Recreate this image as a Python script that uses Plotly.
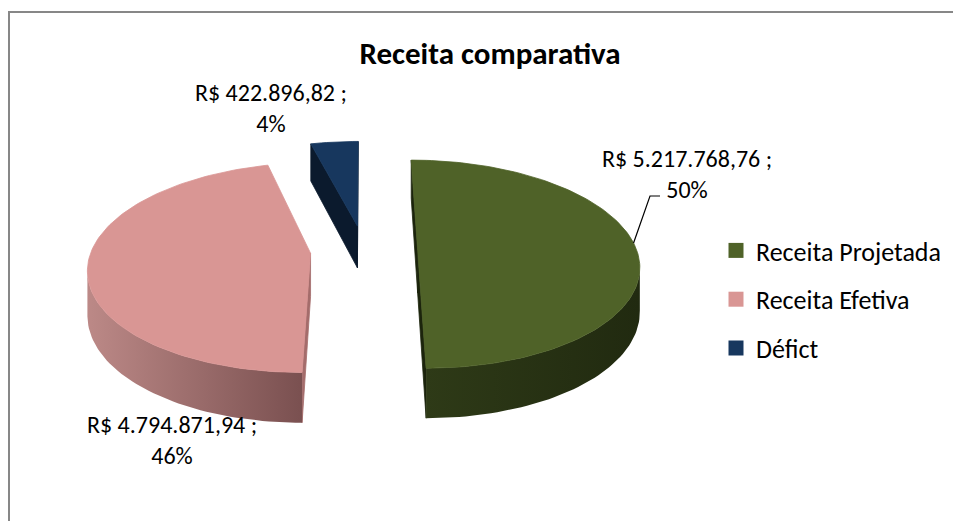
import numpy as np
import plotly.graph_objects as go

# ---------------- data ----------------
categories = ["Receita Projetada", "Receita Efetiva", "Défict"]
values = [5217768.76, 4794871.94, 422896.82]
top_colors = ["#4F6228", "#D99694", "#17375E"]
side_grad = [["#2E3A17", "#212A10"], ["#BC8987", "#7A5050"], ["#0C1B2E", "#0A1726"]]
radial_colors = ["#1C240C", "#A46C6B", "#0B1A2D"]
title_text = "Receita comparativa"

# page offset of the plot div (default body margin)
OFF = 8
W_PX, H_PX = 961, 521

# ---------------- geometry (perspective 3D pie) ----------------
CX, CY, A, B, P, D, PULL = 364.0, 250.0, 219.0, 102.1, 0.136, 43.2, 0.245


def proj(X, W, Yd):
    s = 1.0 / (1.0 + P * W)
    return CX + A * X * s, CY - B * W * s + D * Yd * s


def area(poly):
    xs = np.array([p[0] for p in poly])
    ys = np.array([p[1] for p in poly])
    return 0.5 * np.sum(xs * np.roll(ys, -1) - np.roll(xs, -1) * ys)


def fmt_brl(v):
    s = f"{v:,.2f}"
    return "R$ " + s.replace(",", "X").replace(".", ",").replace("X", ".")


def px_x(p):
    return (p - OFF) / W_PX


def px_y(p):
    return 1 - (p - OFF) / H_PX


total = sum(values)
fractions = [v / total for v in values]
starts = np.concatenate([[0], np.cumsum(fractions)[:-1]]) * 2 * np.pi
ends = np.cumsum(fractions) * 2 * np.pi

fig = go.Figure()


def add_poly(xs, ys, color=None, grad=None, lw=0.8):
    kw = dict(x=xs, y=ys, mode="lines", fill="toself", hoverinfo="skip",
              showlegend=False)
    if grad is not None:
        kw["fillgradient"] = dict(type="horizontal",
                                  colorscale=[[0, grad[0]], [1, grad[1]]])
        kw["line"] = dict(width=0)
    else:
        kw["fillcolor"] = color
        kw["line"] = dict(width=lw, color=color)
    fig.add_trace(go.Scatter(**kw))


slice_geo = {}
for i in [2, 1, 0]:  # back to front
    a0, a1 = starts[i], ends[i]
    mid = 0.5 * (a0 + a1)
    px, pw = PULL * np.sin(mid), PULL * np.cos(mid)

    def rim(t, yd, px=px, pw=pw):
        return proj(np.sin(t) + px, np.cos(t) + pw, yd)

    ctop = proj(px, pw, 0)
    cbot = proj(px, pw, 1)
    n = max(8, int((a1 - a0) / (2 * np.pi) * 240))
    th = np.linspace(a0, a1, n + 1)

    top = [ctop] + [rim(t, 0) for t in th[::-1]]
    ref = np.sign(area(top))

    # radial faces
    r0 = [ctop, rim(a0, 0), rim(a0, 1), cbot]
    r1 = [rim(a1, 0), ctop, cbot, rim(a1, 1)]
    for face in (r0, r1):
        if area(face) * ref > 1e-6:
            add_poly([p[0] for p in face] + [face[0][0]],
                     [p[1] for p in face] + [face[0][1]], color=radial_colors[i])

    # outer side
    vis = []
    for k in range(n):
        q = [rim(th[k], 0), rim(th[k + 1], 0), rim(th[k + 1], 1), rim(th[k], 1)]
        vis.append(area(q) * ref > 1e-6)
    sx, sy = [], []
    k = 0
    while k < n:
        if vis[k]:
            j = k
            while j < n and vis[j]:
                j += 1
            ts = th[k:j + 1]
            pts = [rim(t, 0) for t in ts] + [rim(t, 1) for t in ts[::-1]]
            pts.append(pts[0])
            if sx:
                sx.append(None)
                sy.append(None)
            sx += [p[0] for p in pts]
            sy += [p[1] for p in pts]
            k = j
        else:
            k += 1
    if sx:
        add_poly(sx, sy, grad=side_grad[i])

    # top face
    add_poly([p[0] for p in top] + [top[0][0]], [p[1] for p in top] + [top[0][1]],
             color=top_colors[i])
    slice_geo[i] = rim

# leader line for the first slice label
lx0, ly0 = slice_geo[0](np.deg2rad(86), 0)
fig.add_trace(go.Scatter(x=[lx0, 650, 660], y=[ly0, 196, 196], mode="lines",
                         line=dict(color="black", width=1.2), hoverinfo="skip",
                         showlegend=False))

# legend entries
for i in range(3):
    fig.add_trace(go.Scatter(x=[None], y=[None], mode="markers", name=categories[i],
                             legendgroup=f"g{i}",
                             marker=dict(symbol="square", size=15, color=top_colors[i])))

# data labels
label_pos = [(687, 174), (172, 440), (271, 108)]
FONT = "Calibri, Carlito, 'Noto Sans', sans-serif"
for i in range(3):
    txt = f"{fmt_brl(values[i])} ;<br>{round(fractions[i] * 100):d}%"
    fig.add_annotation(x=label_pos[i][0], y=label_pos[i][1], xref="x", yref="y",
                       text=txt, showarrow=False, xanchor="center", yanchor="middle",
                       align="center", font=dict(size=24, color="#000000", family=FONT))

fig.update_layout(
    width=W_PX, height=H_PX,
    margin=dict(l=0, r=0, t=0, b=0),
    paper_bgcolor="white", plot_bgcolor="white",
    title=dict(text=f"<b>{title_text}</b>", x=px_x(490), xanchor="center",
               y=px_y(53), yanchor="middle",
               font=dict(size=31, color="#000000", family=FONT)),
    xaxis=dict(range=[OFF, OFF + W_PX], visible=False, fixedrange=True),
    yaxis=dict(range=[OFF + H_PX, OFF], visible=False, fixedrange=True),
    showlegend=True,
    legend=dict(x=px_x(716), y=px_y(227), xanchor="left", yanchor="top",
                font=dict(size=26, color="#000000", family=FONT),
                tracegroupgap=12, bgcolor="rgba(0,0,0,0)"),
    shapes=[
        dict(type="line", xref="paper", yref="paper", x0=0, x1=1, y0=px_y(12),
             y1=px_y(12), line=dict(color="#878787", width=2)),
        dict(type="line", xref="paper", yref="paper", x0=px_x(9), x1=px_x(9), y0=0,
             y1=px_y(12), line=dict(color="#878787", width=2)),
    ],
)

fig.write_html("out.html")
